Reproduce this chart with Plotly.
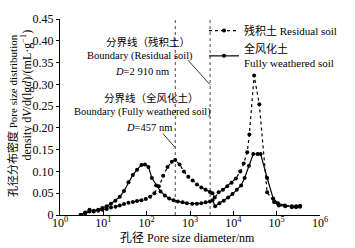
import plotly.graph_objects as go

# Pore diameters (nm) and pore size distribution density dV/d(lgd) (mL/g)
residual_d = [3.0, 3.8, 4.8, 6.0, 7.6, 9.5, 12, 15, 19, 24,
              30, 38, 48, 60, 76, 95, 120, 151, 191, 240,
              302, 380, 457, 575, 724, 912, 1148, 1445, 1820, 2291,
              2884, 3311, 3715, 4571, 5754, 7244, 9120, 11482, 14454, 17378,
              20893, 23442, 30200, 39811, 60256, 87096, 112202, 158489, 223872, 281838,
              346737]
residual_v = [0, 0.004, 0.008, 0.008, 0.010, 0.012, 0.014, 0.017, 0.019, 0.022,
              0.025, 0.028, 0.030, 0.032, 0.034, 0.037, 0.042, 0.050, 0.066, 0.090,
              0.110, 0.122, 0.126, 0.116, 0.100, 0.088, 0.079, 0.070, 0.063, 0.058,
              0.053, 0.050, 0.040, 0.052, 0.058, 0.066, 0.074, 0.084, 0.100, 0.118,
              0.144, 0.185, 0.320, 0.254, 0.052, 0.030, 0.022, 0.020, 0.018, 0.018,
              0.019]

weathered_d = [3.0, 3.8, 4.8, 6.0, 7.6, 9.5, 12, 15, 19, 24,
               30, 38, 48, 60, 76, 91, 110, 132, 166, 209,
               263, 331, 417, 525, 676, 851, 1122, 1445, 1820, 2291,
               2884, 3311, 3802, 4786, 6026, 7586, 9550, 12023, 15136, 18197,
               22909, 28840, 36308, 42658, 60256, 83176, 107152, 154882, 223872, 281838,
               346737]
weathered_v = [0, 0.006, 0.012, 0.010, 0.012, 0.016, 0.020, 0.026, 0.033, 0.042,
               0.055, 0.075, 0.092, 0.104, 0.115, 0.116, 0.110, 0.085, 0.068, 0.054,
               0.045, 0.038, 0.034, 0.031, 0.029, 0.027, 0.026, 0.026, 0.027, 0.029,
               0.031, 0.034, 0.020, 0.027, 0.033, 0.040, 0.048, 0.058, 0.068, 0.085,
               0.113, 0.140, 0.140, 0.140, 0.085, 0.038, 0.027, 0.022, 0.020, 0.020,
               0.021]

boundaries = [457, 2910]
y_span = [0, 0.45]

x_tickvals = [1, 10, 100, 1000, 10000, 100000, 1000000]
x_ticktext = ["10<sup>0</sup>", "10<sup>1</sup>", "10<sup>2</sup>", "10<sup>3</sup>",
              "10<sup>4</sup>", "10<sup>5</sup>", "10<sup>6</sup>"]
y_tickvals = [0, 0.05, 0.10, 0.15, 0.20, 0.25, 0.30, 0.35, 0.40, 0.45]
y_ticktext = ["0", "0.05", "0.10", "0.15", "0.20", "0.25", "0.30", "0.35", "0.40", "0.45"]

FONT = "Liberation Serif, Times New Roman, Noto Sans CJK SC, serif"

fig = go.Figure()

for b in boundaries:
    fig.add_trace(go.Scatter(x=[b, b], y=y_span, mode="lines",
                             line=dict(color="#444", width=1, dash="dot"),
                             showlegend=False, hoverinfo="skip"))

fig.add_trace(go.Scatter(x=residual_d, y=residual_v, mode="lines+markers",
                         name="残积土 Residual soil",
                         line=dict(color="black", width=1.2, dash="dot"),
                         marker=dict(color="black", size=4)))
fig.add_trace(go.Scatter(x=weathered_d, y=weathered_v, mode="lines+markers",
                         name="全风化土<br>Fully weathered soil",
                         line=dict(color="black", width=1.2),
                         marker=dict(color="black", size=4)))

def px(x):
    return (x - 60) / 260

def py(y):
    return (215 - y) / 200

# (text, left x px, center y px, size)
annos = [
    ("分界线（残积土）", 104, 38, 10.5),
    ("Boundary (Residual soil)", 85, 53, 10.5),
    ("<i>D</i>=2 910 nm", 113, 69, 10.5),
    ("分界线（全风化土）", 102, 96, 10.5),
    ("Boundary (Fully weathered soil)", 72, 110, 10.5),
    ("<i>D</i>=457 nm", 124, 126, 10.5),
]
annotations = []
for t, x, y, s in annos:
    annotations.append(dict(text=t, x=px(x), y=py(y), xref="paper", yref="paper",
                            showarrow=False, xanchor="left", yanchor="middle", align="left",
                            font=dict(size=s, family=FONT, color="black")))

annotations.append(dict(text="孔径分布密度 Pore size distribution", x=px(12), y=py(114),
                        xref="paper", yref="paper", showarrow=False, textangle=-90,
                        xanchor="center", yanchor="middle",
                        font=dict(size=11, family=FONT, color="black")))
annotations.append(dict(text="density d<i>V</i>/d(lg<i>d</i>)/(mL·g<sup>−1</sup>)", x=px(26), y=py(93),
                        xref="paper", yref="paper", showarrow=False, textangle=-90,
                        xanchor="center", yanchor="middle",
                        font=dict(size=12, family=FONT, color="black")))
annotations.append(dict(text="孔径 Pore size diameter/nm", x=px(118), y=py(238),
                        xref="paper", yref="paper", showarrow=False,
                        xanchor="left", yanchor="middle",
                        font=dict(size=12, family=FONT, color="black")))

shapes = [
    dict(type="line", xref="paper", yref="paper", x0=px(188), y0=py(57), x1=px(210), y1=py(82),
         line=dict(color="black", width=0.8)),
    dict(type="line", xref="paper", yref="paper", x0=px(163), y0=py(132), x1=px(175), y1=py(146),
         line=dict(color="black", width=0.8)),
]

fig.update_layout(
    width=355, height=248,
    margin=dict(l=60, r=35, t=15, b=33),
    paper_bgcolor="white", plot_bgcolor="white",
    font=dict(family=FONT, size=12, color="black"),
    annotations=annotations, shapes=shapes,
    showlegend=True,
    legend=dict(x=px(204), y=py(12), xanchor="left", yanchor="top",
                bgcolor="rgba(0,0,0,0)", borderwidth=0,
                font=dict(size=11, family=FONT, color="black"),
                itemwidth=30, tracegroupgap=0),
    xaxis=dict(type="log", range=[0, 6], showgrid=False, zeroline=False,
               showline=True, linecolor="black", linewidth=1,
               ticks="inside", ticklen=4, tickcolor="black",
               tickvals=x_tickvals, ticktext=x_ticktext,
               ticklabelstandoff=-3,
               tickfont=dict(size=12, family=FONT)),
    yaxis=dict(range=[0, 0.45], showgrid=False, zeroline=False,
               showline=True, linecolor="black", linewidth=1,
               ticks="outside", ticklen=3, tickcolor="black",
               tickvals=y_tickvals, ticktext=y_ticktext,
               tickfont=dict(size=12, family=FONT)),
)

fig.write_html("out.html", config={"displayModeBar": False},
               post_script="document.body.style.margin='0';document.body.style.overflow='hidden';")
